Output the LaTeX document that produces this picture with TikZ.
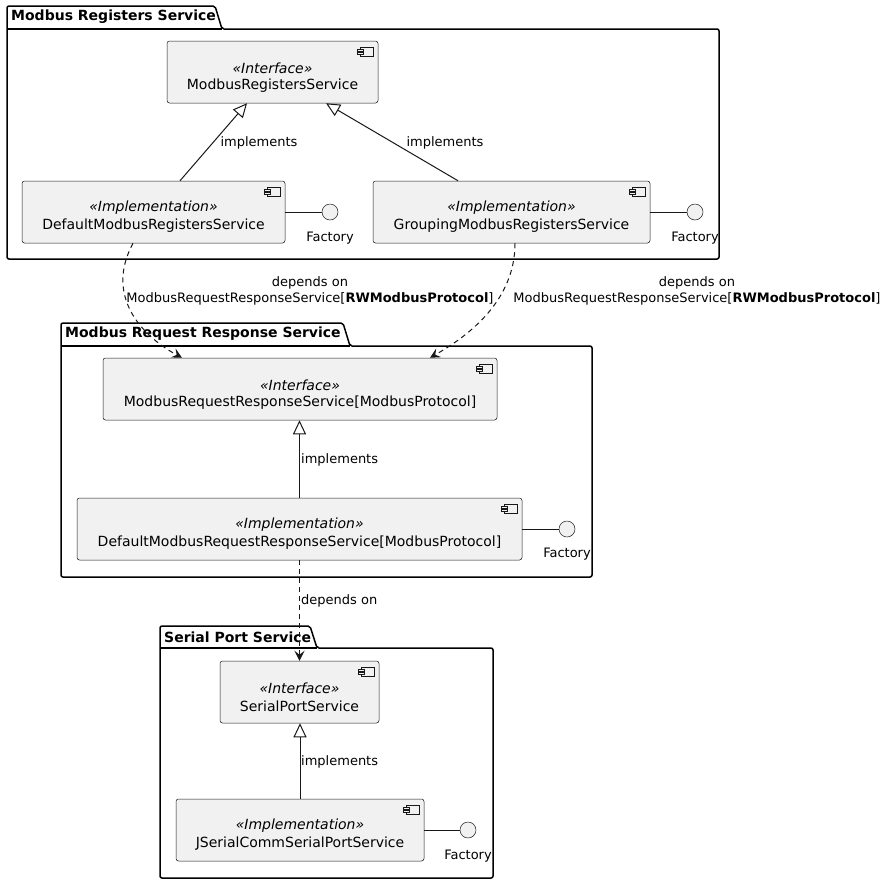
\documentclass[tikz,border=0pt]{standalone}
\usepackage{fontspec}
\setmainfont{DejaVu Sans}
\usetikzlibrary{arrows.meta}
\definecolor{compfill}{HTML}{F1F1F1}
\definecolor{lncol}{HTML}{181818}
\begin{document}
\begin{tikzpicture}[x=1pt,y=-1pt,
  comp/.style={draw=lncol, line width=0.5pt, fill=compfill, rounded corners=2.5pt, inner sep=0pt, minimum height=62pt},
  pkg/.style={draw=black, line width=1.5pt, rounded corners=2pt, line join=round},
  txt/.style={inner sep=0pt, font=\fontsize{14}{16}\selectfont},
  stereo/.style={inner sep=0pt, font=\fontsize{14}{16}\selectfont\itshape},
  lbl/.style={inner sep=0pt, font=\fontsize{13}{16}\selectfont, align=center},
  ptitle/.style={inner sep=0pt, anchor=west, font=\fontsize{14}{16}\selectfont\bfseries},
  impl/.style={draw=lncol, line width=1pt, -{Triangle[open, length=14pt, width=13pt]}},
  dep/.style={draw=lncol, line width=1pt, dash pattern=on 5pt off 4pt, -{Stealth[length=10pt, width=10pt, inset=4pt]}},
  iface/.style={circle, draw=lncol, line width=0.5pt, fill=compfill, minimum size=16pt, inner sep=0pt},
  cicon/.pic={
    \draw[lncol, line width=0.5pt, fill=compfill] (-18,6) rectangle (-5,15);
    \draw[lncol, line width=0.5pt, fill=compfill] (-21,8) rectangle (-15,10.2);
    \draw[lncol, line width=0.5pt, fill=compfill] (-21,11) rectangle (-15,13.2);
  },
]
\useasboundingbox (0,0) rectangle (888,884);
\fill[white] (0,0) rectangle (888,884);

% ---------- packages ----------
\draw[pkg] (7,6) -- (215,6) -- (222,29) -- (719,29) -- (719,259) -- (7,259) -- cycle;
\draw[pkg] (7,29) -- (222,29);
\node[ptitle] (p1) at (11,17) {Modbus Registers Service};

\draw[pkg] (61,323) -- (343,323) -- (350,346) -- (592,346) -- (592,577) -- (61,577) -- cycle;
\draw[pkg] (61,346) -- (350,346);
\node[ptitle] (p2) at (65,334) {Modbus Request Response Service};

\draw[pkg] (160,626) -- (310,626) -- (317,648) -- (493,648) -- (493,878) -- (160,878) -- cycle;
\draw[pkg] (160,648) -- (317,648);
\node[ptitle] (p3) at (164,637) {Serial Port Service};

% ---------- components ----------
\node[comp, minimum width=211pt] (mrs) at (272.5,72) {};
\pic at (mrs.north east) {cicon};
\node[stereo] at (272.5,68) {«Interface»};
\node[txt] at (272.5,86) {ModbusRegistersService};

\node[comp, minimum width=263pt] (dmrs) at (153.5,212) {};
\pic at (dmrs.north east) {cicon};
\node[stereo] at (153.5,208) {«Implementation»};
\node[txt] at (153.5,226) {DefaultModbusRegistersService};

\node[comp, minimum width=277pt] (gmrs) at (511.5,212) {};
\pic at (gmrs.north east) {cicon};
\node[stereo] at (511.5,208) {«Implementation»};
\node[txt] at (511.5,226) {GroupingModbusRegistersService};

\node[comp, minimum width=394pt] (mrrs) at (300,389) {};
\pic at (mrrs.north east) {cicon};
\node[stereo] at (300,385) {«Interface»};
\node[txt] at (300,403) {ModbusRequestResponseService[ModbusProtocol]};

\node[comp, minimum width=445pt] (drrs) at (299.5,529) {};
\pic at (drrs.north east) {cicon};
\node[stereo] at (299.5,525) {«Implementation»};
\node[txt] at (299.5,543) {DefaultModbusRequestResponseService[ModbusProtocol]};

\node[comp, minimum width=159pt] (sps) at (299.5,692) {};
\pic at (sps.north east) {cicon};
\node[stereo] at (299.5,688) {«Interface»};
\node[txt] at (299.5,706) {SerialPortService};

\node[comp, minimum width=248pt] (jsc) at (300,830) {};
\pic at (jsc.north east) {cicon};
\node[stereo] at (300,826) {«Implementation»};
\node[txt] at (300,844) {JSerialCommSerialPortService};

% ---------- factories ----------
\node[iface] (f1) at (330,212) {};
\node[lbl] at (330,238) {Factory};
\draw[lncol, line width=1pt] (dmrs.east) -- (f1.west);

\node[iface] (f2) at (695,212) {};
\node[lbl] at (695,238) {Factory};
\draw[lncol, line width=1pt] (gmrs.east) -- (f2.west);

\node[iface] (f3) at (567,529) {};
\node[lbl] at (567,554) {Factory};
\draw[lncol, line width=1pt] (drrs.east) -- (f3.west);

\node[iface] (f4) at (468,830) {};
\node[lbl] at (468,856) {Factory};
\draw[lncol, line width=1pt] (jsc.east) -- (f4.west);

% ---------- implements ----------
\draw[impl] ([xshift=26.5pt]dmrs.north) -- ([xshift=-25.5pt]mrs.south);
\node[lbl] at (259,143) {implements};
\draw[impl] ([xshift=-53.5pt]gmrs.north) -- ([xshift=53.5pt]mrs.south);
\node[lbl] at (445,143) {implements};
\draw[impl] (drrs.north) -- (drrs.north |- mrrs.south);
\node[lbl, anchor=west] at (301,460) {implements};
\draw[impl] (jsc.north) -- (jsc.north |- sps.south);
\node[lbl, anchor=west] at (301,762) {implements};

% ---------- dependencies ----------
\draw[dep] ([xshift=-20.5pt]dmrs.south) .. controls (105,295) and (140,335) .. ([xshift=-118pt]mrrs.north);
\node[lbl] at (310,291) {depends on\\ModbusRequestResponseService[\textbf{RWModbusProtocol}]};
\draw[dep] ([xshift=3.5pt]gmrs.south) .. controls (515,300) and (470,335) .. ([xshift=130pt]mrrs.north);
\node[lbl] at (697,291) {depends on\\ModbusRequestResponseService[\textbf{RWModbusProtocol}]};
\draw[dep] (drrs.south) -- (drrs.south |- sps.north);
\node[lbl, anchor=west] at (301,601) {depends on};
\end{tikzpicture}
\end{document}
